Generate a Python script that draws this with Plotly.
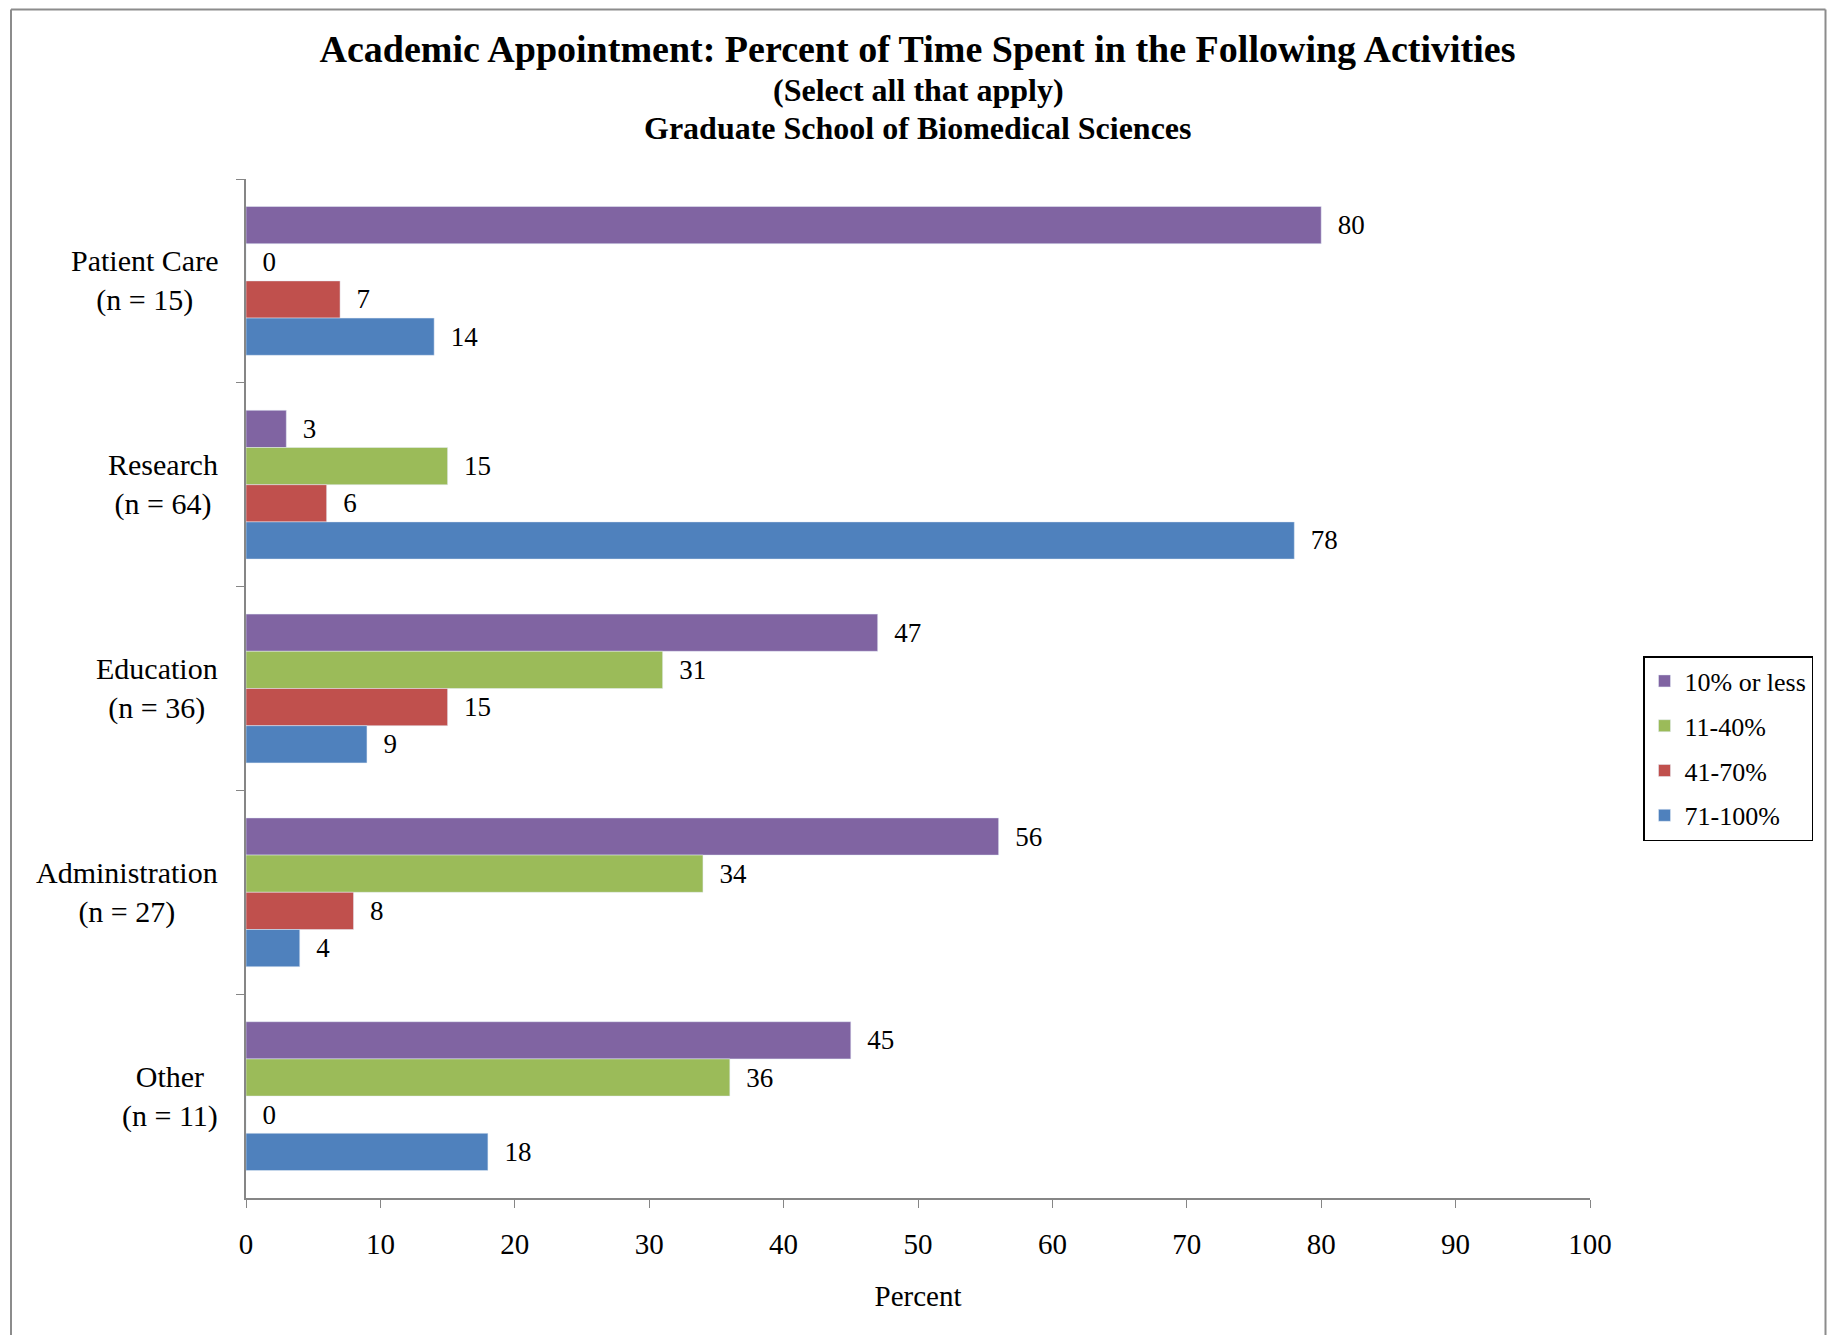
import plotly.graph_objects as go

categories = ["Patient Care", "Research", "Education", "Administration", "Other"]
category_n = [15, 64, 36, 27, 11]

series_names = ["10% or less", "11-40%", "41-70%", "71-100%"]
series_values = [
    [80, 3, 47, 56, 45],   # 10% or less
    [0, 15, 31, 34, 36],   # 11-40%
    [7, 6, 15, 8, 0],      # 41-70%
    [14, 78, 9, 4, 18],    # 71-100%
]
series_colors = ["#8064A2", "#9BBB59", "#C0504D", "#4F81BD"]

x_ticks = [0, 10, 20, 30, 40, 50, 60, 70, 80, 90, 100]

FONT = "Liberation Serif, Times New Roman, serif"
GREY = "#868686"

# figure geometry in screen pixels; the page body adds an 8px offset,
# so the figure is shrunk a bit to avoid scrollbars
OFF = 8
W, H = 1835 - 2 * OFF, 1343 - 2 * OFF
L, T = 246 - OFF, 179 - OFF
R = W - (1590 - OFF)
B = H - (1198 - OFF)
PW, PH = W - L - R, H - T - B


def px_x(x):
    return (x - OFF - L) / PW


def px_y(y):
    return (H - B - (y - OFF)) / PH


fig = go.Figure()

for name, vals, color in zip(series_names, series_values, series_colors):
    fig.add_trace(go.Bar(
        y=categories,
        x=vals,
        name=name,
        orientation="h",
        marker=dict(color=color),
        text=["\u00a0\u00a0" + str(v) for v in vals],
        textposition="outside",
        textangle=0,
        textfont=dict(family=FONT, size=27, color="black"),
        cliponaxis=False,
        legendgroup=name,
    ))

# two-line category labels, centred like the original
for cat, n in zip(categories, category_n):
    fig.add_annotation(
        x=px_x(246 - 26), xref="paper", xanchor="right",
        y=cat, yref="y", yanchor="middle",
        text=f"{cat}<br>(n = {n})", align="center", showarrow=False,
        font=dict(family=FONT, size=30, color="black"),
    )

# subtitle lines
fig.add_annotation(
    x=0.5, xref="paper", y=px_y(90), yref="paper", yanchor="middle",
    text="<b>(Select all that apply)</b>", showarrow=False,
    font=dict(family=FONT, size=32, color="black"),
)
fig.add_annotation(
    x=0.5, xref="paper", y=px_y(128), yref="paper", yanchor="middle",
    text="<b>Graduate School of Biomedical Sciences</b>", showarrow=False,
    font=dict(family=FONT, size=32, color="black"),
)

# outer chart border (left, top, right; bottom runs off the page)
bx0, bx1 = px_x(11), px_x(OFF + W - 1.5)
by0, by1 = px_y(OFF + H), px_y(OFF + 1.5)
fig.add_shape(
    type="line", xref="paper", yref="paper",
    x0=bx0, x1=bx0, y0=by0, y1=by1,
    line=dict(color="#8c8c8c", width=2), layer="below",
)
fig.add_shape(
    type="line", xref="paper", yref="paper",
    x0=bx0, x1=bx1, y0=by1, y1=by1,
    line=dict(color="#8c8c8c", width=2), layer="below",
)
fig.add_shape(
    type="line", xref="paper", yref="paper",
    x0=bx1, x1=bx1, y0=by0, y1=by1,
    line=dict(color="#8c8c8c", width=2), layer="below",
)

fig.update_layout(
    width=W, height=H,
    margin=dict(l=L, r=R, t=T, b=B),
    paper_bgcolor="white",
    plot_bgcolor="white",
    font=dict(family=FONT, color="black"),
    title=dict(
        text="<b>Academic Appointment: Percent of Time Spent in the Following Activities</b>",
        x=0.5, xanchor="center", y=1 - (49 - OFF) / H, yanchor="middle",
        font=dict(family=FONT, size=38, color="black"),
    ),
    barmode="group",
    bargap=0.27,
    bargroupgap=0,
    xaxis=dict(
        range=[0, 100],
        tickvals=x_ticks,
        ticks="outside", ticklen=8, tickcolor=GREY, tickwidth=1,
        showline=True, linecolor=GREY, linewidth=2,
        showgrid=False, zeroline=False,
        tickfont=dict(family=FONT, size=29, color="black"),
        ticklabelstandoff=11,
        title=dict(text="Percent", font=dict(family=FONT, size=29, color="black"), standoff=27),
    ),
    yaxis=dict(
        autorange="reversed",
        showticklabels=False,
        ticks="outside", tickson="boundaries", ticklen=8, tickcolor=GREY, tickwidth=1,
        showline=True, linecolor=GREY, linewidth=1.5,
        showgrid=False, zeroline=False,
    ),
    legend=dict(
        x=px_x(1643), xanchor="left",
        y=px_y(656), yanchor="top",
        bordercolor="black", borderwidth=1.5,
        bgcolor="white",
        traceorder="grouped",
        tracegroupgap=8,
        font=dict(family=FONT, size=26, color="black"),
    ),
    showlegend=True,
)

fig.write_html("out.html")
